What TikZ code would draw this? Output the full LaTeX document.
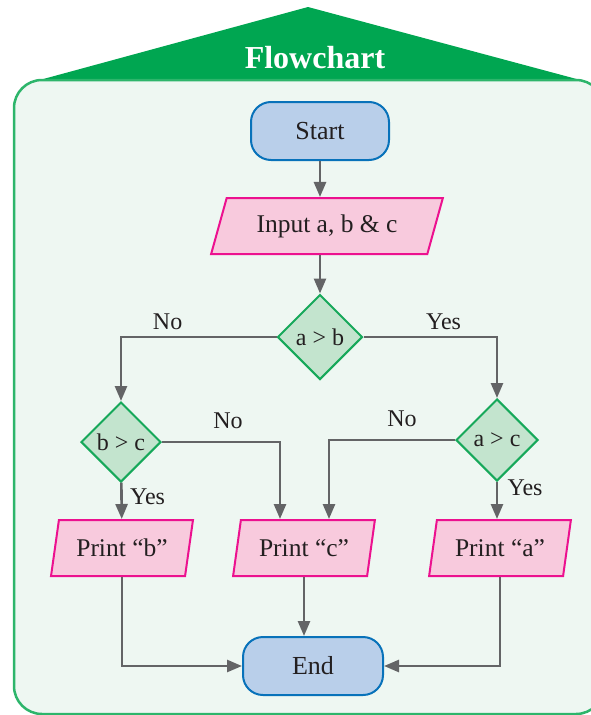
\documentclass[tikz,border=0pt]{standalone}
\usepackage{fontspec}
\setmainfont{Liberation Serif}
\usetikzlibrary{shapes.geometric,arrows.meta}
\definecolor{roofgreen}{HTML}{00A651}
\definecolor{panelfill}{HTML}{EEF7F2}
\definecolor{panelline}{HTML}{2DB56B}
\definecolor{termfill}{HTML}{B9CFEA}
\definecolor{termline}{HTML}{0872BA}
\definecolor{iofill}{HTML}{F8CADD}
\definecolor{ioline}{HTML}{EC118F}
\definecolor{testfill}{HTML}{C3E4CE}
\definecolor{testline}{HTML}{16A85A}
\definecolor{flowgray}{HTML}{636466}
\definecolor{inkcol}{HTML}{231F20}
\begin{document}
\begin{tikzpicture}[x=1pt,y=-1pt,
    every node/.style={text=inkcol,font=\fontsize{24}{28}\selectfont},
    term/.style={draw=termline,fill=termfill,line width=2pt,rounded corners=20pt,
        minimum width=138pt,minimum height=58pt,font=\fontsize{26}{30}\selectfont},
    io/.style={trapezium,trapezium stretches=true,trapezium left angle=76,trapezium right angle=104,
        draw=ioline,fill=iofill,line width=2pt,minimum height=56pt,
        font=\fontsize{25.5}{30}\selectfont},
    test/.style={diamond,draw=testline,fill=testfill,line width=2pt,
        minimum size=82pt,inner sep=0pt},
    flow/.style={draw=flowgray,line width=2.6pt,-{Triangle[width=12pt,length=15pt]}}]
        \useasboundingbox (0,0) rectangle (591,715);
        % frame and roof
        \fill[roofgreen] (36,81) -- (308,7) -- (584,81) -- cycle;
        \draw[panelline,fill=panelfill,line width=2.5pt,rounded corners=28pt] (14,80) rectangle (604,714);
        \node[anchor=base,text=white,font=\fontsize{32}{36}\selectfont\bfseries] (title) at (315,68) {Flowchart};
        % boxes
        \node[term] (start) at (320,131) {Start};
        \node[io,trapezium left angle=69,trapezium right angle=111,minimum width=232pt] (input) at (327,226) {Input a, b \& c};
        \node[test,minimum size=85pt] (ab) at (320,337) {a > b};
        \node[test,minimum size=80pt] (bc) at (121,442) {b > c};
        \node[test] (ac) at (497,440) {a > c};
        \node[io,minimum width=142pt] (pb) at (122,548) {Print “b”};
        \node[io,minimum width=142pt] (pc) at (304,548) {Print “c”};
        \node[io,minimum width=142pt] (pa) at (500,548) {Print “a”};
        \node[term,minimum width=140pt] (stop) at (313,666) {End};
        % flow lines
        \draw[flow] (start) -- (start |- input.north);
        \draw[flow] (ab |- input.south) -- (ab);
        \draw[flow] (ab.west) -| (bc.north) node[pos=0.35,above=3pt] {No};
        \draw[flow] (ab.east) -| (ac.north) node[pos=0.3,above=3pt] {Yes};
        \draw[flow] (bc.east) -| ([xshift=-24pt]pc.north) node[pos=0.28,above=9pt] {No};
        \draw[flow] (ac.west) -| ([xshift=25pt]pc.north) node[pos=0.21,above=9pt] {No};
        \draw[flow] (bc) -- (pb) node[pos=0.4,right=4pt] {Yes};
        \draw[flow] (ac) -- (pa.north -| ac) node[pos=0.15,right=6pt] {Yes};
        \draw[flow] (pb) |- (stop);
        \draw[flow] (pc) -- (pc |- stop.north);
        \draw[flow] (pa) |- (stop);
\end{tikzpicture}
\end{document}
